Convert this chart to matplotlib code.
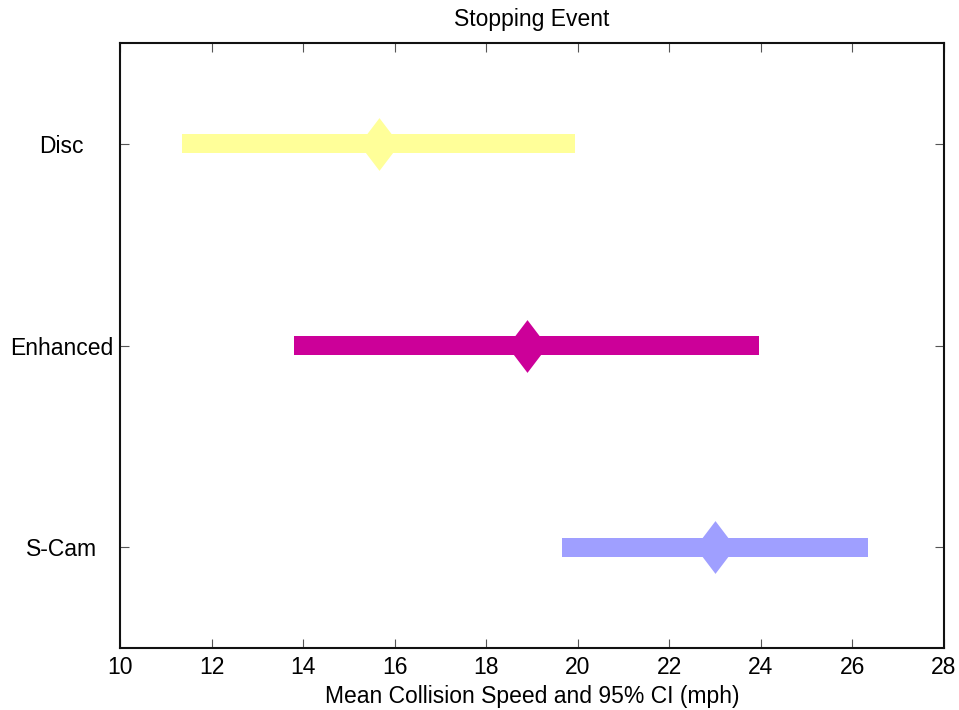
import matplotlib.pyplot as plt
from matplotlib.path import Path

plt.rcParams['font.family'] = ['Liberation Sans', 'DejaVu Sans']

# mean collision speed with 95% CI per brake system
groups = ['Disc', 'Enhanced', 'S-Cam']
means = [15.65, 18.9, 23.0]
ci_low = [11.35, 13.8, 19.65]
ci_high = [19.95, 23.95, 26.35]
colors = ['#FFFF99', '#CC0099', '#9F9FFF']
ypos = [3, 2, 1]

# diamond for the mean, a bit taller than wide
diamond = Path([(0, 1), (0.76, 0), (0, -1), (-0.76, 0), (0, 1)],
               [Path.MOVETO, Path.LINETO, Path.LINETO, Path.LINETO, Path.CLOSEPOLY])

fig = plt.figure(figsize=(9.59, 7.10), dpi=100)
ax = fig.add_axes([0.1251, 0.0873, 0.8593, 0.8521])

for y, m, lo, hi, c in zip(ypos, means, ci_low, ci_high, colors):
    ax.barh(y, hi - lo, left=lo, height=0.095, color=c, edgecolor='none')
    ax.plot([m], [y], marker=diamond, markersize=38, color=c,
            markeredgecolor='none', linestyle='none')

ax.set_xlim(10, 28)
ax.set_ylim(0.5, 3.5)
ax.set_xticks(range(10, 29, 2))
ax.set_yticks(ypos)
ax.set_yticklabels(groups, ha='center')

ax.tick_params(axis='both', direction='in', top=True, right=True,
               length=6.5, width=0.8, color='#555555', labelsize=16.5)
ax.tick_params(axis='y', pad=42)
ax.tick_params(axis='x', pad=6)
for s in ax.spines.values():
    s.set_linewidth(1.5)
    s.set_color('#111111')

ax.set_title('Stopping Event', fontsize=16.5, pad=12)
ax.set_xlabel('Mean Collision Speed and 95% CI (mph)', fontsize=16.5, labelpad=4)

plt.savefig('out.png', dpi=100)
